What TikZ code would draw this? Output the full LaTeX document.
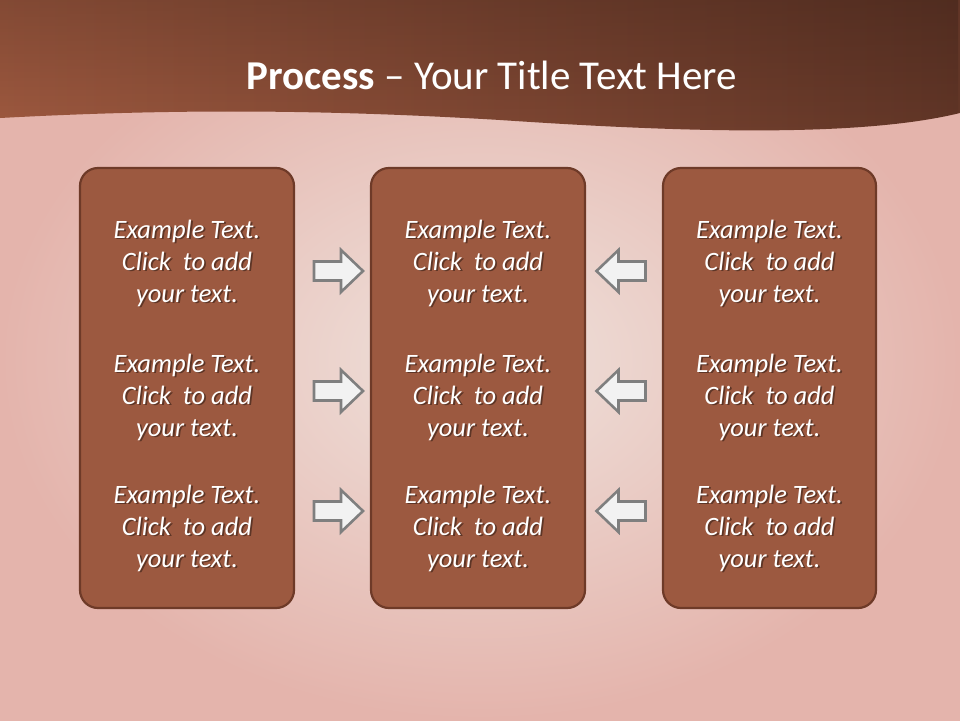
\documentclass[tikz,border=0pt]{standalone}
\usepackage{fontspec}
\setmainfont{Carlito}
\usetikzlibrary{fadings,calc}
\definecolor{boxfill}{HTML}{9C5940}
\definecolor{boxline}{HTML}{6E3A28}
\definecolor{hdrL}{HTML}{A05A40}
\definecolor{hdrR}{HTML}{623627}
\definecolor{bgin}{HTML}{EFE2DC}
\definecolor{bgout}{HTML}{E4B4AC}
\definecolor{arrfill}{HTML}{F2F2F2}
\definecolor{arrline}{HTML}{7F7F7F}
\tikzset{
  stepbox/.style={draw=boxline, line width=2.2pt, fill=boxfill, rounded corners=18pt},
  itext/.style={text=white, align=center, font=\fontsize{26.5}{32}\selectfont\itshape},
  ishadow/.style={text=black, opacity=0.4, align=center, font=\fontsize{26.5}{32}\selectfont\itshape},
  blockarrow/.style={draw=arrline, fill=arrfill, line width=2.6pt, line join=miter},
  pics/rarrow/.style={code={
    \path[blockarrow] (-24.5,-9.5) -- (2.5,-9.5) -- (2.5,-21) -- (24.5,0) -- (2.5,21) -- (2.5,9.5) -- (-24.5,9.5) -- cycle;
  }},
}
\newcommand{\stext}[2]{%
  \node[ishadow] at ($(#2)+(1.8,1.8)$) {Example Text.\\Click~ to add\\your text.};
  \node[itext] (#1) at (#2) {Example Text.\\Click~ to add\\your text.};
}
\begin{document}
\begin{tikzpicture}[x=1pt,y=-1pt]
\useasboundingbox (0,0) rectangle (960,720);
% background
\shade[inner color=bgin, outer color=bgout] (0,0) rectangle (960,720);
\shade[left color=hdrL, right color=hdrR]
  (0,0) -- (960,0) -- (960,113)
  .. controls (850,140) and (650,130) .. (500,120)
  .. controls (300,108) and (150,110) .. (0,118) -- cycle;
\fill[black, opacity=0.18, path fading=south]
  (0,0) -- (960,0) -- (960,113)
  .. controls (850,140) and (650,130) .. (500,120)
  .. controls (300,108) and (150,110) .. (0,118) -- cycle;
% title
\node[text=white, font=\fontsize{41}{46}\selectfont] (title) at (492,75) {\textbf{Process} – Your Title Text Here};
% boxes
\node[stepbox, minimum width=214pt, minimum height=440pt] (left) at (187,388) {};
\node[stepbox, minimum width=214pt, minimum height=440pt] (mid) at (478,388) {};
\node[stepbox, minimum width=213pt, minimum height=440pt] (right) at (769.5,388) {};
% texts
\coordinate (l1) at (187,263); \coordinate (l2) at (187,397); \coordinate (l3) at (187,528);
\coordinate (m1) at (478,263); \coordinate (m2) at (478,397); \coordinate (m3) at (478,528);
\coordinate (r1) at (769.5,263); \coordinate (r2) at (769.5,397); \coordinate (r3) at (769.5,528);
\stext{tl1}{l1} \stext{tl2}{l2} \stext{tl3}{l3}
\stext{tm1}{m1} \stext{tm2}{m2} \stext{tm3}{m3}
\stext{tr1}{r1} \stext{tr2}{r2} \stext{tr3}{r3}
% arrows
\pic at (338.5,271) {rarrow};
\pic at (338.5,391) {rarrow};
\pic at (338.5,511) {rarrow};
\pic[xscale=-1] at (621,271) {rarrow};
\pic[xscale=-1] at (621,391) {rarrow};
\pic[xscale=-1] at (621,511) {rarrow};
\end{tikzpicture}
\end{document}
